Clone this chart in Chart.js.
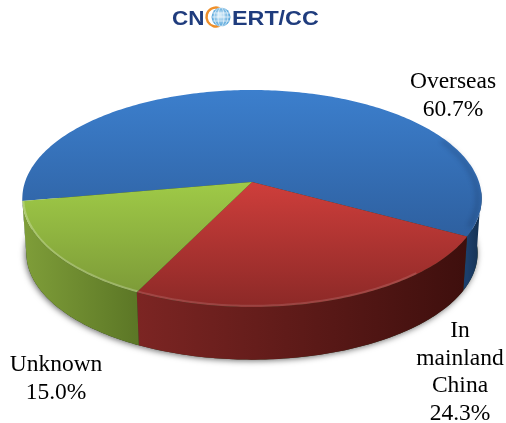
<!DOCTYPE html>
<html>
<head>
<meta charset="utf-8">
<title>Pie</title>
<script src="https://cdn.jsdelivr.net/npm/chart.js@4/dist/chart.umd.min.js"></script>
<style>
    html, body { margin: 0; padding: 0; background: #fff; }
    canvas { display: block; }
</style>
</head>
<body>
<canvas id="pie" width="506" height="423"></canvas>
<script>
const categories = ['Overseas', 'In mainland China', 'Unknown'];
const shares = [60.7, 24.3, 15.0];
const labelLines = [['Overseas'], ['In', 'mainland', 'China'], ['Unknown']];

const baseColors = ['#3570b8', '#b53331', '#8cb23f'];
const topStops = [
    ['#3c7fcd', '#2e60a0'],
    ['#ce3e3b', '#8c2927'],
    ['#9fca47', '#7d9b38']
];
const wallStops = [
    ['#1c3f6c', '#14304f'],
    ['#7c2523', '#3e0f0d'],
    ['#7f9e39', '#5c7726']
];
const rimAlpha = [0, 0.13, 0.24];

const deg = Math.PI / 180;

// perspective disc: the centre of the circle lands on (cx, cy), near edge gets larger
const topDisc = { cx: 252, cy: 182, a: 227, b: 106, p: 0.152 };
const bottomDisc = { cx: 252, cy: 237, a: 223, b: 104, p: 0.152 };

const project = (disc, angle) => {
    const u = Math.cos(angle);
    const v = Math.sin(angle);
    const w = 1 - disc.p * v;
    return [disc.cx + disc.a * u / w, disc.cy + disc.b * v / w];
};

const traceArc = (ctx, disc, from, to, moveFirst) => {
    const steps = Math.max(2, Math.ceil(Math.abs(to - from) / deg));
    for (let i = 0; i <= steps; i++) {
        const [x, y] = project(disc, from + (to - from) * i / steps);
        if (i === 0 && moveFirst) ctx.moveTo(x, y);
        else ctx.lineTo(x, y);
    }
};

const drawGroundShadow = (ctx) => {
    ctx.save();
    ctx.shadowColor = 'rgba(0,0,0,0.6)';
    ctx.shadowBlur = 6;
    ctx.shadowOffsetX = -1;
    ctx.shadowOffsetY = 1;
    ctx.fillStyle = '#2a3a20';
    ctx.beginPath();
    traceArc(ctx, bottomDisc, 0, 2 * Math.PI, true);
    ctx.closePath();
    ctx.fill();
    ctx.restore();
};

const drawWalls = (ctx, arcs) => {
    const wallMin = 5 * deg;
    const wallMax = 172 * deg;
    arcs.forEach((arc, i) => {
        [0, -2 * Math.PI].forEach((shift) => {
            const from = Math.max(arc.startAngle + shift, wallMin);
            const to = Math.min(arc.endAngle + shift, wallMax);
            if (to <= from) return;
            const left = project(topDisc, to)[0];
            const right = project(topDisc, from)[0];
            const grad = ctx.createLinearGradient(left, 0, right, 0);
            grad.addColorStop(0, wallStops[i][0]);
            grad.addColorStop(1, wallStops[i][1]);
            ctx.fillStyle = grad;
            ctx.beginPath();
            traceArc(ctx, topDisc, from, to, true);
            traceArc(ctx, bottomDisc, to, from, false);
            ctx.closePath();
            ctx.fill();
        });
    });
};

// vertical extent of a wedge, used to spread its gradient over the wedge only
const wedgeSpan = (arc) => {
    let low = topDisc.cy;
    let high = topDisc.cy;
    for (let a = arc.startAngle; a <= arc.endAngle; a += deg) {
        const y = project(topDisc, a)[1];
        low = Math.min(low, y);
        high = Math.max(high, y);
    }
    return [low, high];
};

const drawTops = (ctx, arcs) => {
    arcs.forEach((arc, i) => {
        const [low, high] = wedgeSpan(arc);
        const grad = ctx.createLinearGradient(0, low, 0, high);
        grad.addColorStop(0, topStops[i][0]);
        grad.addColorStop(1, topStops[i][1]);
        ctx.fillStyle = grad;
        ctx.beginPath();
        ctx.moveTo(topDisc.cx, topDisc.cy);
        traceArc(ctx, topDisc, arc.startAngle, arc.endAngle, false);
        ctx.closePath();
        ctx.fill();
    });

    // bevel: a soft dark band inside the right rim, then a bright edge on the front wedges
    ctx.save();
    ctx.filter = 'blur(2px)';
    ctx.lineWidth = 5;
    ctx.strokeStyle = 'rgba(10,25,50,0.16)';
    ctx.beginPath();
    traceArc(ctx, { ...topDisc, a: topDisc.a - 4, b: topDisc.b - 3 }, -25 * deg, 24 * deg, true);
    ctx.stroke();
    ctx.restore();

    ctx.save();
    ctx.filter = 'blur(0.6px)';
    ctx.lineWidth = 2;
    arcs.forEach((arc, i) => {
        [0, -2 * Math.PI].forEach((shift) => {
            const from = Math.max(arc.startAngle + shift, 50 * deg);
            const to = Math.min(arc.endAngle + shift, 170 * deg);
            if (to <= from || !rimAlpha[i]) return;
            ctx.strokeStyle = `rgba(255,255,255,${rimAlpha[i]})`;
            ctx.beginPath();
            traceArc(ctx, { ...topDisc, a: topDisc.a - 1, b: topDisc.b - 1 }, from, to, true);
            ctx.stroke();
        });
    });
    ctx.restore();
};

const drawLabels = (ctx) => {
    const anchors = [[453, 82], [460, 331], [56, 365]];
    ctx.save();
    ctx.fillStyle = '#000';
    ctx.font = '23.5px "Liberation Serif"';
    ctx.textAlign = 'center';
    ctx.textBaseline = 'middle';
    categories.forEach((name, i) => {
        const lines = [...labelLines[i], shares[i].toFixed(1) + '%'];
        lines.forEach((line, n) => {
            ctx.fillText(line, anchors[i][0], anchors[i][1] + n * 27.6);
        });
    });
    ctx.restore();
};

const drawLogo = (ctx) => {
    ctx.save();
    ctx.fillStyle = '#1f3c7d';
    ctx.font = 'bold 21px "Liberation Sans"';
    ctx.textBaseline = 'alphabetic';
    ctx.textAlign = 'left';
    // the wordmark is set a little wider than the plain font
    ctx.save();
    ctx.translate(172, 25);
    ctx.scale(1.07, 1);
    ctx.fillText('CN', 0, 0);
    ctx.restore();
    ctx.save();
    ctx.translate(232, 25);
    ctx.scale(1.11, 1);
    ctx.fillText('ERT/CC', 0, 0);
    ctx.restore();

    // orange swoosh and globe
    ctx.strokeStyle = '#ef8f2a';
    ctx.lineWidth = 2.5;
    ctx.beginPath();
    ctx.arc(216, 17, 9.5, 60 * deg, 300 * deg);
    ctx.stroke();
    const globe = ctx.createRadialGradient(220, 15, 1, 221, 17, 10);
    globe.addColorStop(0, '#d7ecf8');
    globe.addColorStop(1, '#4a9fd8');
    ctx.fillStyle = globe;
    ctx.beginPath();
    ctx.arc(221, 17, 9.5, 0, 2 * Math.PI);
    ctx.fill();
    ctx.strokeStyle = 'rgba(255,255,255,0.8)';
    ctx.lineWidth = 0.8;
    [3, 7].forEach((rx) => {
        ctx.beginPath();
        ctx.ellipse(221, 17, rx, 9.5, 0, 0, 2 * Math.PI);
        ctx.stroke();
    });
    [-4, 0, 4].forEach((dy) => {
        ctx.beginPath();
        ctx.moveTo(212, 17 + dy);
        ctx.lineTo(230, 17 + dy);
        ctx.stroke();
    });
    ctx.restore();
};

// The pie controller works out the wedge angles; this plugin paints them as a solid disc.
const solidPie = {
    id: 'solidPie',
    beforeDatasetsDraw(chart) {
        const arcs = chart.getDatasetMeta(0).data;
        const ctx = chart.ctx;
        drawGroundShadow(ctx);
        drawWalls(ctx, arcs);
        drawTops(ctx, arcs);
        return false;
    },
    afterDraw(chart) {
        drawLabels(chart.ctx);
        drawLogo(chart.ctx);
    }
};

new Chart(document.getElementById('pie'), {
    type: 'pie',
    data: {
        labels: categories,
        datasets: [{ data: shares, backgroundColor: baseColors, borderWidth: 0 }]
    },
    options: {
        responsive: false,
        animation: false,
        rotation: 260,
        plugins: { legend: { display: false }, tooltip: { enabled: false } }
    },
    plugins: [solidPie]
});
</script>
</body>
</html>
